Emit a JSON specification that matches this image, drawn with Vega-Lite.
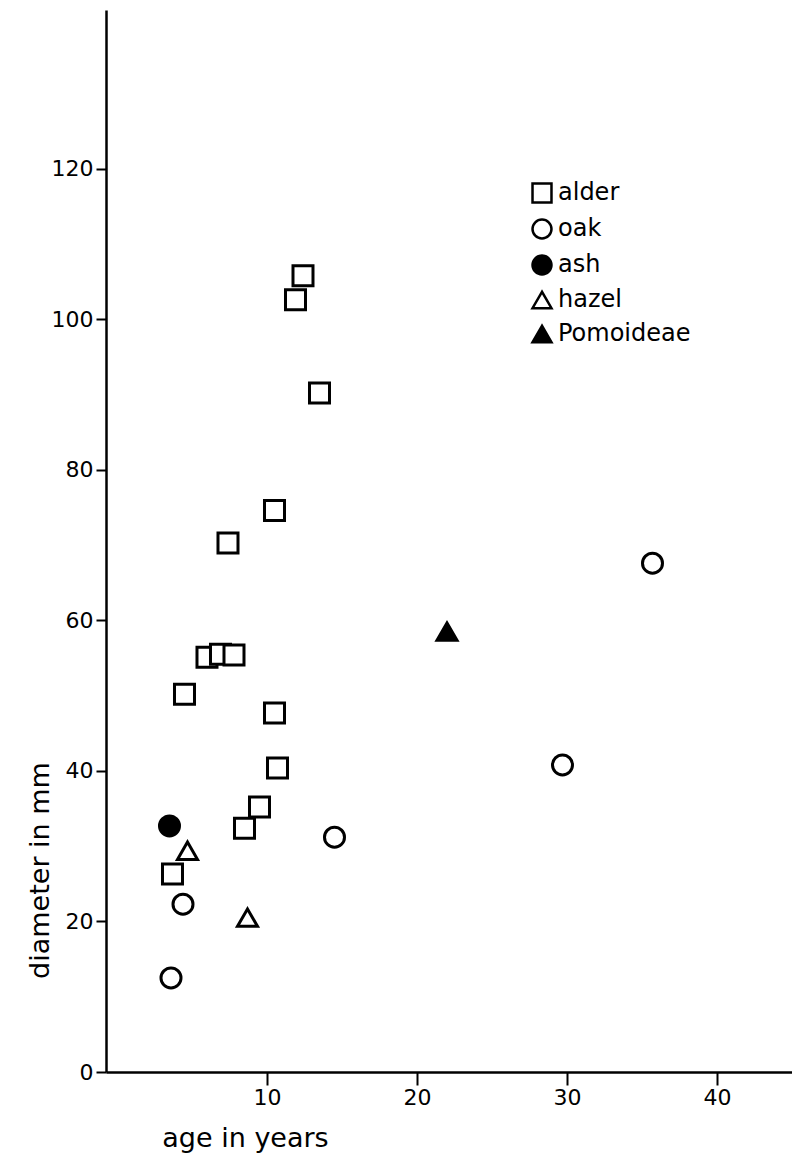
{
  "$schema": "https://vega.github.io/schema/vega-lite/v6.json",
  "width": 686,
  "height": 1062,
  "autosize": {"type": "none"},
  "padding": {"left": 106, "top": 10, "right": 0, "bottom": 88},
  "background": "white",
  "config": {
    "view": {"stroke": null},
    "font": "DejaVu Sans",
    "axis": {"grid": false, "domainColor": "black", "domainWidth": 2.5, "tickColor": "black", "tickWidth": 2, "labelColor": "black", "titleColor": "black", "labelFont": "DejaVu Sans", "titleFont": "DejaVu Sans", "titleFontWeight": "normal"}
  },
  "data": {
    "values": [
      {"species": "alder", "age": 12.4, "diameter": 105.8},
      {"species": "alder", "age": 11.9, "diameter": 102.6},
      {"species": "alder", "age": 13.5, "diameter": 90.2},
      {"species": "alder", "age": 10.5, "diameter": 74.6},
      {"species": "alder", "age": 7.4, "diameter": 70.3},
      {"species": "alder", "age": 6.0, "diameter": 55.1},
      {"species": "alder", "age": 6.9, "diameter": 55.5},
      {"species": "alder", "age": 7.8, "diameter": 55.4},
      {"species": "alder", "age": 4.5, "diameter": 50.2},
      {"species": "alder", "age": 10.5, "diameter": 47.7},
      {"species": "alder", "age": 10.7, "diameter": 40.4},
      {"species": "alder", "age": 9.5, "diameter": 35.2},
      {"species": "alder", "age": 8.5, "diameter": 32.4},
      {"species": "alder", "age": 3.7, "diameter": 26.3},
      {"species": "oak", "age": 14.5, "diameter": 31.2},
      {"species": "oak", "age": 4.4, "diameter": 22.3},
      {"species": "oak", "age": 3.6, "diameter": 12.5},
      {"species": "oak", "age": 35.7, "diameter": 67.6},
      {"species": "oak", "age": 29.7, "diameter": 40.8},
      {"species": "ash", "age": 3.5, "diameter": 32.7},
      {"species": "hazel", "age": 4.7, "diameter": 29.4},
      {"species": "hazel", "age": 8.7, "diameter": 20.5},
      {"species": "Pomoideae", "age": 22.0, "diameter": 58.5}
    ]
  },
  "mark": {"type": "point", "stroke": "black", "strokeWidth": 3, "opacity": 1, "size": 400},
  "encoding": {
    "x": {
      "field": "age", "type": "quantitative",
      "scale": {"domain": [-0.733, 45], "nice": false, "zero": false},
      "axis": {"values": [10, 20, 30, 40], "tickSize": 13, "labelPadding": 2, "labelFontSize": 22, "title": "age in years", "titleFontSize": 27, "titleX": 139, "titleY": 74, "titleAlign": "center", "titleBaseline": "alphabetic"}
    },
    "y": {
      "field": "diameter", "type": "quantitative",
      "scale": {"domain": [0, 141.1], "nice": false},
      "axis": {"values": [0, 20, 40, 60, 80, 100, 120], "tickSize": 10, "labelPadding": 3, "labelFontSize": 22, "title": "diameter in mm", "titleFontSize": 27, "titleAngle": -90, "titleX": -58, "titleY": 860, "titleAlign": "center", "titleBaseline": "alphabetic"}
    },
    "shape": {
      "field": "species", "type": "nominal",
      "scale": {"domain": ["alder", "oak", "ash", "hazel", "Pomoideae"], "range": ["square", "circle", "circle", "triangle-up", "triangle-up"]},
      "legend": {"title": null, "orient": "none", "legendX": 424, "legendY": 171, "padding": 0, "labelFontSize": 24, "labelColor": "black", "labelFont": "DejaVu Sans", "labelOffset": 4, "rowPadding": 6, "symbolSize": 360, "symbolStrokeColor": "black", "symbolStrokeWidth": 2.5, "symbolOpacity": 1,
        "encode": {"symbols": {"update": {"stroke": {"value": "black"}, "strokeWidth": {"value": 2.5}}}}}
    },
    "fill": {
      "field": "species", "type": "nominal",
      "scale": {"domain": ["alder", "oak", "ash", "hazel", "Pomoideae"], "range": ["white", "white", "black", "white", "black"]},
      "legend": {"title": null, "orient": "none", "legendX": 424, "legendY": 171, "padding": 0, "labelFontSize": 24, "labelColor": "black", "labelFont": "DejaVu Sans", "labelOffset": 4, "rowPadding": 6, "symbolSize": 360, "symbolStrokeColor": "black", "symbolStrokeWidth": 2.5, "symbolOpacity": 1,
        "encode": {"symbols": {"update": {"stroke": {"value": "black"}, "strokeWidth": {"value": 2.5}}}}}
    }
  }
}
